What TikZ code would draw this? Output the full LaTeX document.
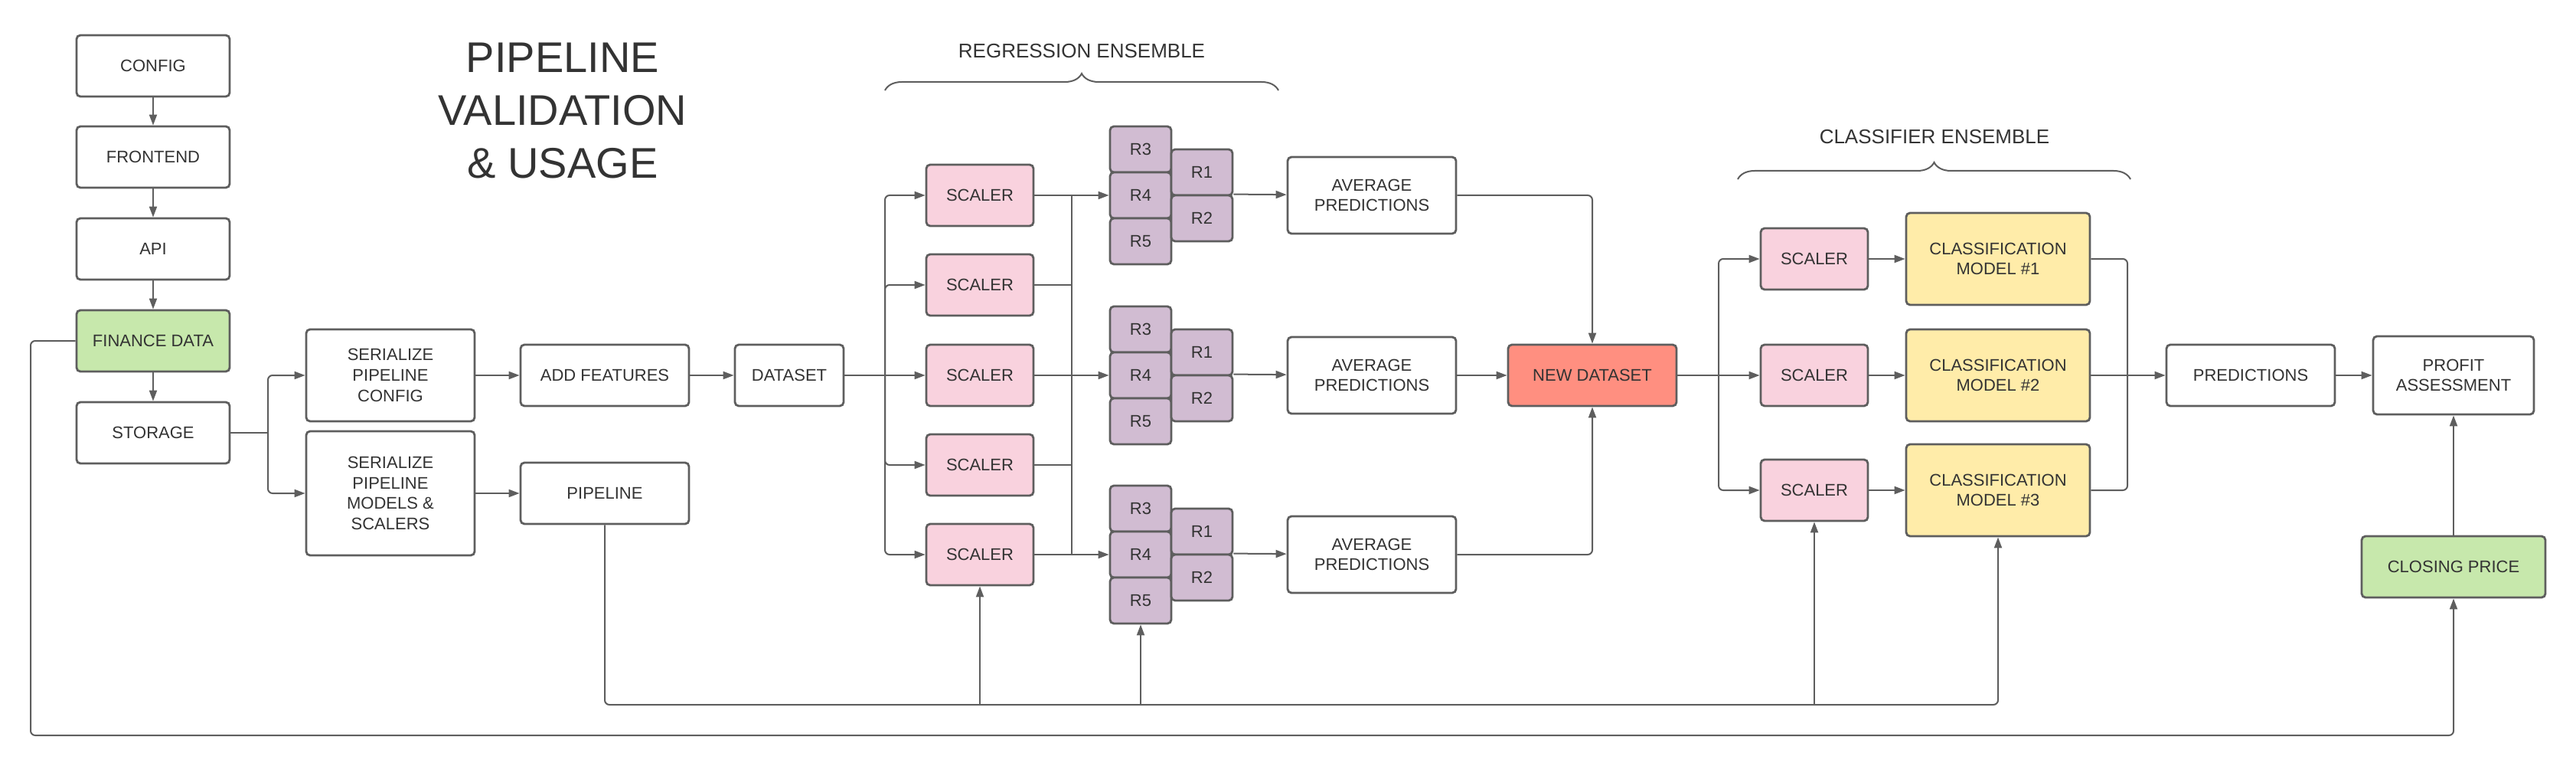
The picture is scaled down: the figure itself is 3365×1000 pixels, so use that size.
\documentclass[tikz,border=0pt]{standalone}
\usepackage{fontspec}
\setmainfont{Liberation Sans}
\usepackage{tikz}
\usetikzlibrary{arrows.meta,decorations.pathreplacing}
\definecolor{edgegray}{HTML}{5E5E5E}
\definecolor{textgray}{HTML}{333333}
\definecolor{datagreen}{HTML}{C7E8AC}
\definecolor{scalerpink}{HTML}{F9D2DE}
\definecolor{regpurple}{HTML}{D1BCD2}
\definecolor{modelyellow}{HTML}{FFECA9}
\definecolor{newred}{HTML}{FF8F80}
\newcommand{\edgewidth}{1pt}
\newcommand{\borderwidth}{1.4pt}
\tikzset{
  block/.style={draw=edgegray, line width=\borderwidth, rounded corners=2.5pt, fill=white,
    text=textgray, align=center, inner sep=0pt, minimum width=100pt, minimum height=40pt,
    font=\fontsize{11}{13.3}\selectfont},
  scalerbox/.style={block, fill=scalerpink, minimum width=70pt},
  regbox/.style={block, fill=regpurple, minimum width=40pt, minimum height=30pt},
  modelbox/.style={block, fill=modelyellow, minimum width=120pt, minimum height=60pt},
  conn/.style={draw=edgegray, line width=\edgewidth, rounded corners=3pt},
  flow/.style={conn, -{Triangle[length=7pt,width=5pt]}},
  headline/.style={text=textgray, align=center, inner sep=0pt, font=\fontsize{28}{34.5}\selectfont},
  grouplabel/.style={text=textgray, inner sep=0pt, font=\fontsize{13}{15}\selectfont},
  bracket/.style={draw=edgegray, line width=\edgewidth, decorate, decoration={brace, amplitude=11pt}}
}
\begin{document}
\begin{tikzpicture}[x=0.5pt,y=-0.5pt]
\useasboundingbox (0,0) rectangle (3365,1000);
%title
\node[headline, anchor=north] (title) at (735,56) {PIPELINE\\VALIDATION\\\& USAGE};
\node[grouplabel] (regtag) at (1413,67) {REGRESSION ENSEMBLE};
\node[grouplabel] (clstag) at (2527,179) {CLASSIFIER ENSEMBLE};
\draw[bracket] (1156,118) -- (1670,118);
\draw[bracket] (2270,234) -- (2783,234);
%sources
\node[block] (config) at (200,86) {CONFIG};
\node[block] (frontend) at (200,205) {FRONTEND};
\node[block] (api) at (200,325) {API};
\node[block, fill=datagreen] (finance) at (200,445) {FINANCE DATA};
\node[block] (storage) at (200,565) {STORAGE};
\node[block, minimum width=110pt, minimum height=60pt] (sercfg) at (510,490) {SERIALIZE\\PIPELINE\\CONFIG};
\node[block, minimum width=110pt, minimum height=81pt] (sermod) at (510,644) {SERIALIZE\\PIPELINE\\MODELS \&\\SCALERS};
\node[block, minimum width=110pt] (addfeat) at (790,490) {ADD FEATURES};
\node[block, minimum width=110pt] (pipeline) at (790,644) {PIPELINE};
\node[block, minimum width=71pt] (dataset) at (1031,490) {DATASET};
%regression ensemble
\node[scalerbox] (s1) at (1280,255) {SCALER};
\node[scalerbox] (s2) at (1280,372) {SCALER};
\node[scalerbox] (s3) at (1280,490) {SCALER};
\node[scalerbox] (s4) at (1280,607) {SCALER};
\node[scalerbox] (s5) at (1280,724) {SCALER};
\node[regbox] (r3-1) at (1490,195) {R3};
\node[regbox] (r4-1) at (1490,255) {R4};
\node[regbox] (r5-1) at (1490,315) {R5};
\node[regbox] (r1-1) at (1570,225) {R1};
\node[regbox] (r2-1) at (1570,285) {R2};
\node[regbox] (r3-2) at (1490,430) {R3};
\node[regbox] (r4-2) at (1490,490) {R4};
\node[regbox] (r5-2) at (1490,550) {R5};
\node[regbox] (r1-2) at (1570,460) {R1};
\node[regbox] (r2-2) at (1570,520) {R2};
\node[regbox] (r3-3) at (1490,664) {R3};
\node[regbox] (r4-3) at (1490,724) {R4};
\node[regbox] (r5-3) at (1490,784) {R5};
\node[regbox] (r1-3) at (1570,694) {R1};
\node[regbox] (r2-3) at (1570,754) {R2};
\node[block, minimum width=110pt, minimum height=50pt] (avg1) at (1792,255) {AVERAGE\\PREDICTIONS};
\node[block, minimum width=110pt, minimum height=50pt] (avg2) at (1792,490) {AVERAGE\\PREDICTIONS};
\node[block, minimum width=110pt, minimum height=50pt] (avg3) at (1792,724) {AVERAGE\\PREDICTIONS};
\node[block, fill=newred, minimum width=110pt] (newds) at (2080,490) {NEW DATASET};
%classifier ensemble
\node[scalerbox] (cs1) at (2370,338) {SCALER};
\node[scalerbox] (cs2) at (2370,490) {SCALER};
\node[scalerbox] (cs3) at (2370,640) {SCALER};
\node[modelbox] (m1) at (2610,338) {CLASSIFICATION\\MODEL \#1};
\node[modelbox] (m2) at (2610,490) {CLASSIFICATION\\MODEL \#2};
\node[modelbox] (m3) at (2610,640) {CLASSIFICATION\\MODEL \#3};
\node[block, minimum width=110pt] (predictions) at (2940,490) {PREDICTIONS};
\node[block, minimum width=105pt, minimum height=51pt] (profit) at (3205,490) {PROFIT\\ASSESSMENT};
\node[block, fill=datagreen, minimum width=120pt] (closing) at (3205,740) {CLOSING PRICE};
%links
\coordinate (stsplit) at (350,565);
\coordinate (dssplit) at (1156,490);
\coordinate (sbus1) at (1400,255);
\coordinate (sbus5) at (1400,724);
\coordinate (ndsplit) at (2245,490);
\coordinate (cmerge) at (2779,490);
\coordinate (pbus) at (790,920);
\coordinate (fcorner) at (40,960);
\draw[flow] (config) -- (frontend);
\draw[flow] (frontend) -- (api);
\draw[flow] (api) -- (finance);
\draw[flow] (finance) -- (storage);
\draw[conn] (storage) -- (stsplit);
\draw[flow] (stsplit) |- (sercfg);
\draw[flow] (stsplit) |- (sermod);
\draw[flow] (sercfg) -- (addfeat);
\draw[flow] (sermod) -- (pipeline);
\draw[flow] (addfeat) -- (dataset);
\draw[conn] (dataset) -- (dssplit);
\draw[flow] (dssplit) |- (s1);
\draw[flow] (dssplit) |- (s2);
\draw[flow] (dssplit) -- (s3);
\draw[flow] (dssplit) |- (s4);
\draw[flow] (dssplit) |- (s5);
\draw[flow] (s1) -- (r4-1);
\draw[flow] (s3) -- (r4-2);
\draw[flow] (s5) -- (r4-3);
\draw[conn] (sbus1) -- (sbus5);
\draw[conn] (s2) -- (s2 -| sbus1);
\draw[conn] (s4) -- (s4 -| sbus1);
\draw[flow] (r2-1.north east) -- (avg1);
\draw[flow] (r2-2.north east) -- (avg2);
\draw[flow] (r2-3.north east) -- (avg3);
\draw[flow] (avg1) -| (newds);
\draw[flow] (avg2) -- (newds);
\draw[flow] (avg3) -| (newds);
\draw[conn] (newds) -- (ndsplit);
\draw[flow] (ndsplit) |- (cs1);
\draw[flow] (ndsplit) -- (cs2);
\draw[flow] (ndsplit) |- (cs3);
\draw[flow] (cs1) -- (m1);
\draw[flow] (cs2) -- (m2);
\draw[flow] (cs3) -- (m3);
\draw[conn] (m1) -| (cmerge);
\draw[conn] (m3) -| (cmerge);
\draw[flow] (m2) -- (predictions);
\draw[flow] (predictions) -- (profit);
\draw[flow] (closing) -- (profit);
%pipeline feed
\draw[flow] (pipeline) -- (pbus) -| (m3);
\draw[flow] (s5 |- pbus) -- (s5);
\draw[flow] (r5-3 |- pbus) -- (r5-3);
\draw[flow] (cs3 |- pbus) -- (cs3);
%closing price feed
\draw[flow] (finance) -| (fcorner) -| (closing);
\end{tikzpicture}
\end{document}
